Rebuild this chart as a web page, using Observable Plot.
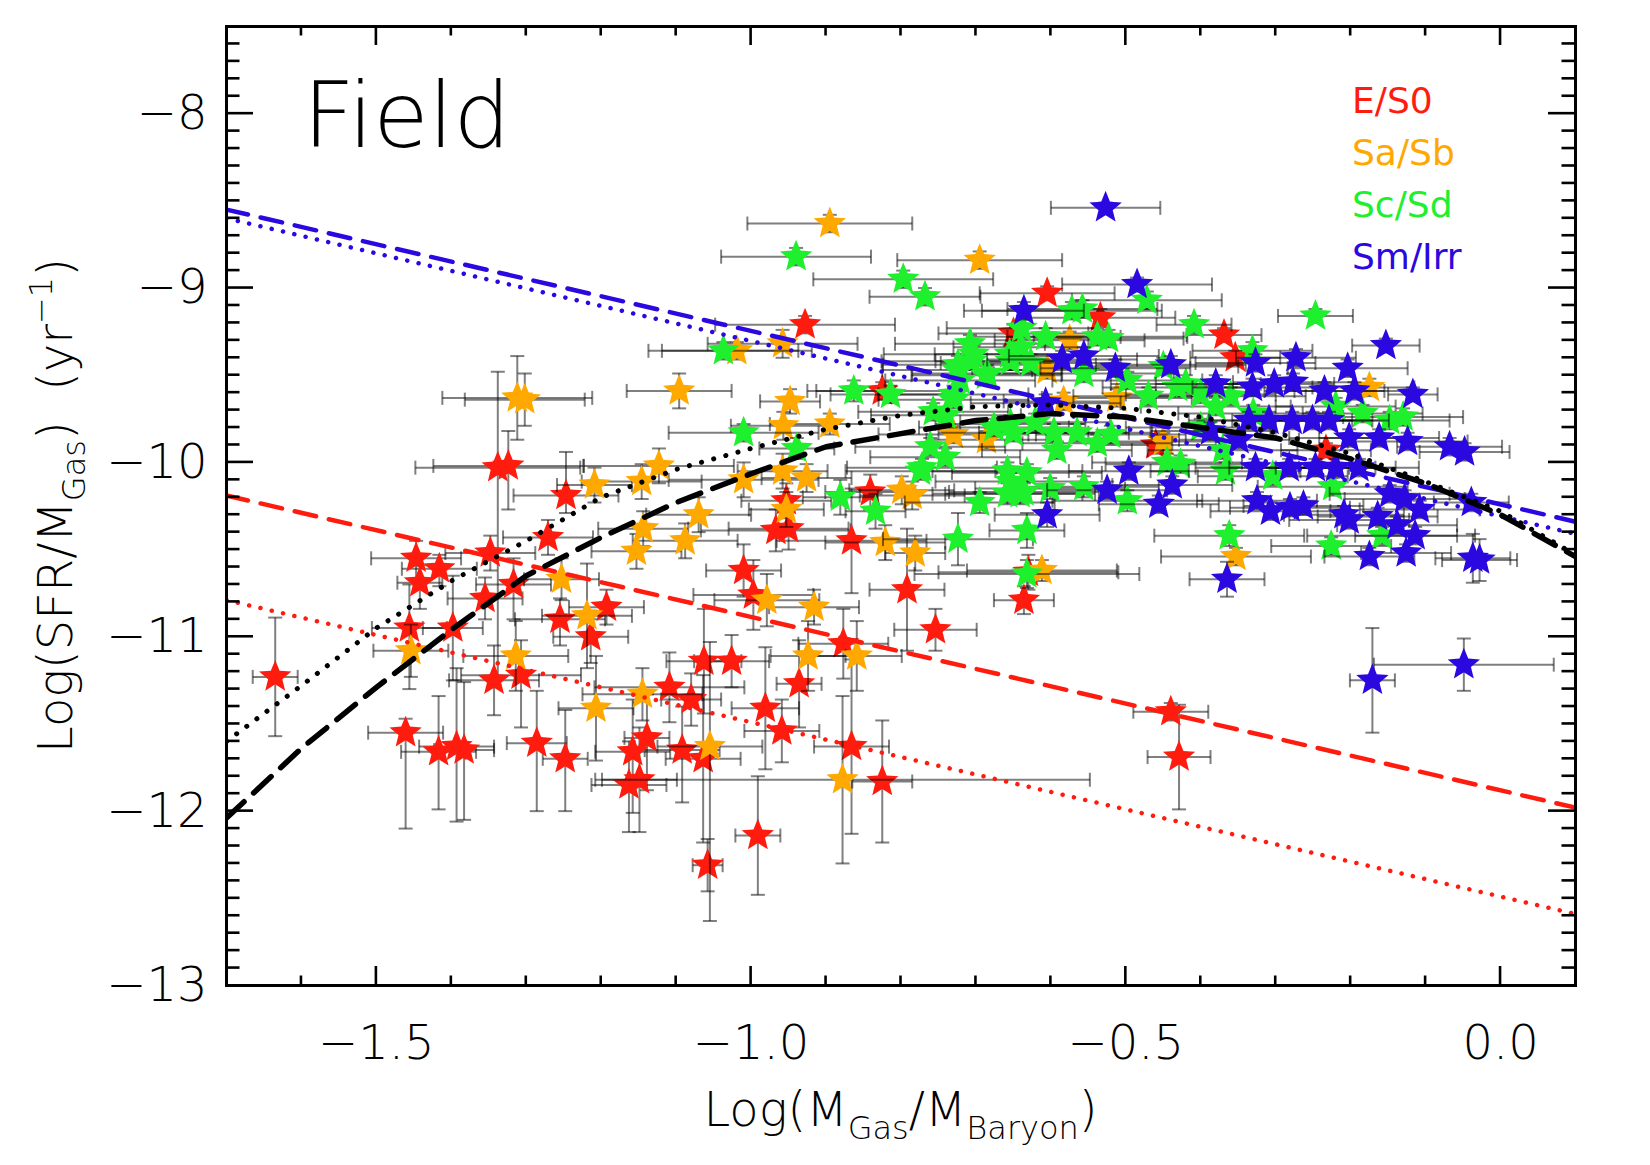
<!DOCTYPE html>
<html>
<head>
<meta charset="utf-8">
<script src="https://cdn.jsdelivr.net/npm/d3@7"></script>
<script src="https://cdn.jsdelivr.net/npm/@observablehq/plot@0.6"></script>
<style>
  html, body { margin: 0; padding: 0; background: #fff; }
  #chart svg { display: block; }
</style>
</head>
<body>
<div id="chart"></div>
<script>
// Morphological classes and their colours
const types = ["E/S0", "Sa/Sb", "Sc/Sd", "Sm/Irr"];
const typeColors = ["#ff1c0e", "#ffa800", "#1ef02e", "#2c08e0"];

// Galaxies: [log Mgas/Mbaryon, log SFR/Mgas, x error, y error up, y error down]
const eS0 = [
  [-1.635,-11.23,0.03,0.34,0.34],[-1.447,-10.55,0.06,0.10,0.12],[-1.416,-10.61,0.05,0.08,0.10],
  [-1.442,-10.69,0.03,0.10,0.15],[-1.355,-10.78,0.05,0.12,0.12],[-1.317,-10.70,0.05,0.15,0.20],
  [-1.348,-10.52,0.06,0.10,0.10],[-1.338,-10.03,0.11,0.55,1.20],[-1.324,-10.02,0.10,0.20,0.25],
  [-1.247,-10.19,0.07,0.25,0.10],[-1.271,-10.43,0.06,0.10,0.10],[-1.255,-10.90,0.06,0.12,0.15],
  [-1.193,-10.83,0.05,0.10,0.10],[-1.214,-11.00,0.05,0.15,0.15],[-1.456,-10.95,0.05,0.25,0.35],
  [-1.398,-10.95,0.04,0.30,0.30],[-1.343,-11.25,0.06,0.20,0.20],[-1.307,-11.22,0.08,0.20,0.30],
  [-1.109,-11.29,0.10,0.20,0.20],[-1.080,-11.36,0.04,0.15,0.15],[-1.063,-11.14,0.05,0.30,0.30],
  [-1.026,-11.14,0.05,0.15,0.15],[-0.981,-11.41,0.045,0.35,0.35],[-0.959,-11.54,0.05,0.18,0.18],
  [-0.936,-11.27,0.03,0.25,0.25],[-0.877,-11.04,0.06,0.20,0.20],[-0.866,-11.63,0.05,0.50,0.50],
  [-0.825,-11.83,0.04,0.35,0.35],[-1.461,-11.55,0.05,0.08,0.55],[-1.417,-11.66,0.05,0.32,0.33],
  [-1.393,-11.63,0.05,0.45,0.43],[-1.383,-11.65,0.04,0.39,0.40],[-1.286,-11.61,0.04,0.30,0.39],
  [-1.248,-11.70,0.03,0.28,0.30],[-1.158,-11.66,0.05,0.30,0.35],[-1.139,-11.58,0.03,0.25,0.30],
  [-1.163,-11.85,0.05,0.25,0.27],[-1.149,-11.82,0.05,0.30,0.30],[-1.092,-11.65,0.05,0.25,0.30],
  [-1.064,-11.70,0.05,0.48,0.48],[-1.058,-12.31,0.02,0.15,0.15],[-0.991,-12.14,0.03,0.34,0.34],
  [-0.928,-9.21,0.12,0.05,0.05],[-0.605,-9.03,0.09,0.04,0.04],[-0.650,-9.26,0.10,0.05,0.05],
  [-0.534,-9.17,0.10,0.05,0.05],[-0.369,-9.27,0.05,0.04,0.04],[-0.354,-9.40,0.06,0.04,0.04],
  [-0.825,-9.59,0.10,0.05,0.05],[-0.841,-10.17,0.06,0.10,0.10],[-0.953,-10.22,0.06,0.10,0.10],
  [-0.967,-10.39,0.10,0.12,0.12],[-0.950,-10.38,0.08,0.12,0.12],[-0.866,-10.45,0.10,0.30,0.30],
  [-0.630,-10.63,0.12,0.10,0.10],[-0.636,-10.79,0.04,0.08,0.08],[-1.010,-10.62,0.05,0.15,0.15],
  [-0.997,-10.76,0.08,0.20,0.20],[-0.792,-10.73,0.05,0.35,0.35],[-0.754,-10.96,0.055,0.12,0.12],
  [-0.440,-11.43,0.05,0.05,0.05],[-0.429,-11.69,0.042,0.30,0.30],[-0.460,-9.90,0.08,0.05,0.05],
  [-0.233,-9.93,0.06,0.04,0.04]
];

const saSb = [
  [-0.895,-8.63,0.11,0.05,0.05],[-0.695,-8.84,0.11,0.05,0.05],[-1.312,-9.63,0.10,0.24,0.24],
  [-1.302,-9.64,0.08,0.15,0.15],[-1.096,-9.59,0.07,0.10,0.10],[-1.019,-9.36,0.10,0.05,0.05],
  [-0.958,-9.32,0.10,0.08,0.08],[-0.948,-9.65,0.04,0.07,0.07],[-0.575,-9.30,0.10,0.05,0.05],
  [-0.583,-9.65,0.08,0.05,0.05],[-1.209,-10.13,0.05,0.10,0.10],[-1.146,-10.11,0.08,0.10,0.10],
  [-1.123,-10.02,0.10,0.10,0.10],[-1.144,-10.38,0.06,0.10,0.10],[-1.153,-10.51,0.06,0.10,0.10],
  [-1.088,-10.45,0.07,0.10,0.10],[-1.070,-10.30,0.07,0.10,0.10],[-1.253,-10.67,0.05,0.12,0.12],
  [-1.219,-10.88,0.06,0.30,0.30],[-1.454,-11.08,0.05,0.15,0.15],[-1.314,-11.11,0.07,0.20,0.20],
  [-1.207,-11.41,0.05,0.30,0.30],[-1.145,-11.33,0.08,0.15,0.15],[-0.924,-11.11,0.05,0.20,0.20],
  [-0.859,-11.11,0.06,0.20,0.20],[-0.878,-11.82,0.33,0.48,0.48],[-1.055,-11.63,0.07,0.60,1.00],
  [-0.958,-10.05,0.06,0.10,0.10],[-0.926,-10.09,0.06,0.08,0.08],[-1.010,-10.10,0.10,0.10,0.10],
  [-0.895,-9.78,0.08,0.06,0.06],[-0.957,-9.79,0.07,0.08,0.08],[-0.799,-10.16,0.07,0.08,0.08],
  [-0.785,-10.19,0.07,0.08,0.08],[-0.953,-10.27,0.05,0.10,0.10],[-0.821,-10.46,0.08,0.10,0.10],
  [-0.781,-10.52,0.04,0.10,0.10],[-0.979,-10.79,0.07,0.15,0.15],[-0.916,-10.83,0.06,0.10,0.10],
  [-0.730,-9.84,0.10,0.05,0.05],[-0.686,-9.87,0.08,0.05,0.05],[-0.612,-10.62,0.10,0.06,0.06],
  [-0.450,-9.88,0.08,0.05,0.05],[-0.353,-10.54,0.10,0.05,0.05],[-0.175,-9.57,0.06,0.05,0.05],
  [-0.605,-9.47,0.10,0.05,0.05],[-0.512,-9.63,0.10,0.05,0.05]
];

const scSd = [
  [-0.940,-8.82,0.10,0.05,0.05],[-0.797,-8.95,0.12,0.05,0.05],[-0.768,-9.05,0.074,0.05,0.05],
  [-0.572,-9.13,0.12,0.05,0.05],[-0.558,-9.12,0.10,0.05,0.05],[-0.708,-9.32,0.10,0.05,0.05],
  [-0.640,-9.34,0.09,0.05,0.05],[-0.655,-9.38,0.10,0.05,0.05],[-1.037,-9.36,0.10,0.05,0.05],
  [-0.706,-9.42,0.12,0.05,0.05],[-0.724,-9.44,0.10,0.05,0.05],[-0.686,-9.50,0.10,0.05,0.05],
  [-0.863,-9.59,0.05,0.06,0.06],[-0.814,-9.61,0.08,0.05,0.05],[-1.010,-9.83,0.10,0.05,0.05],
  [-0.939,-9.92,0.05,0.06,0.06],[-0.757,-9.71,0.10,0.05,0.05],[-0.740,-9.73,0.10,0.05,0.05],
  [-0.772,-10.03,0.10,0.05,0.05],[-0.881,-10.20,0.05,0.10,0.10],[-0.834,-10.28,0.04,0.10,0.10],
  [-0.695,-10.23,0.10,0.06,0.06],[-0.632,-10.39,0.05,0.10,0.10],[-0.724,-10.44,0.10,0.15,0.15],
  [-0.632,-10.64,0.15,0.08,0.08],[-0.247,-9.16,0.05,0.04,0.04],[-0.472,-9.07,0.10,0.05,0.05],
  [-0.409,-9.21,0.05,0.05,0.05],[-0.703,-9.38,0.12,0.05,0.05],[-0.654,-9.42,0.10,0.05,0.05],
  [-0.627,-9.43,0.12,0.05,0.05],[-0.725,-9.47,0.10,0.05,0.05],[-0.685,-9.49,0.10,0.05,0.05],
  [-0.556,-9.49,0.12,0.05,0.05],[-0.639,-9.23,0.10,0.05,0.05],[-0.607,-9.28,0.10,0.05,0.05],
  [-0.538,-9.28,0.12,0.05,0.05],[-0.523,-9.29,0.10,0.05,0.05],[-0.498,-9.53,0.10,0.05,0.05],
  [-0.400,-9.61,0.10,0.05,0.05],[-0.431,-9.57,0.10,0.05,0.05],[-0.730,-9.61,0.10,0.05,0.05],
  [-0.721,-9.53,0.10,0.05,0.05],[-0.761,-9.91,0.10,0.05,0.05],[-0.741,-9.97,0.10,0.05,0.05],
  [-0.774,-10.05,0.10,0.05,0.05],[-0.676,-9.80,0.10,0.05,0.05],[-0.658,-10.05,0.10,0.05,0.05],
  [-0.632,-10.06,0.10,0.05,0.05],[-0.658,-10.18,0.10,0.06,0.06],[-0.641,-10.18,0.10,0.06,0.06],
  [-0.601,-10.15,0.10,0.06,0.06],[-0.556,-10.14,0.10,0.06,0.06],[-0.592,-9.93,0.10,0.05,0.05],
  [-0.565,-9.83,0.10,0.05,0.05],[-0.538,-9.89,0.10,0.05,0.05],[-0.520,-9.84,0.10,0.05,0.05],
  [-0.650,-9.83,0.10,0.05,0.05],[-0.621,-9.77,0.10,0.05,0.05],[-0.596,-9.83,0.10,0.05,0.05],
  [-0.498,-10.22,0.10,0.06,0.06],[-0.427,-10.01,0.10,0.05,0.05],[-0.445,-10.00,0.10,0.05,0.05],
  [-0.331,-9.36,0.08,0.05,0.05],[-0.148,-9.76,0.08,0.05,0.05],[-0.130,-9.74,0.08,0.05,0.05],
  [-0.371,-9.93,0.10,0.05,0.05],[-0.367,-10.05,0.10,0.05,0.05],[-0.304,-10.08,0.10,0.05,0.05],
  [-0.224,-10.14,0.10,0.05,0.05],[-0.158,-10.42,0.10,0.05,0.05],[-0.226,-10.48,0.08,0.05,0.05],
  [-0.362,-10.42,0.10,0.06,0.06],[-0.184,-9.72,0.08,0.05,0.05],[-0.220,-9.68,0.08,0.05,0.05],
  [-0.730,-9.64,0.10,0.05,0.05],[-0.654,-9.78,0.10,0.05,0.05],[-0.636,-10.17,0.10,0.05,0.05],
  [-0.654,-10.11,0.10,0.05,0.05],[-0.450,-9.45,0.10,0.05,0.05],[-0.420,-9.55,0.10,0.05,0.05],
  [-0.380,-9.68,0.10,0.05,0.05],[-0.330,-9.72,0.10,0.05,0.05],[-0.470,-9.62,0.10,0.05,0.05],
  [-0.400,-9.80,0.10,0.05,0.05],[-0.360,-9.62,0.10,0.05,0.05]
];

const smIrr = [
  [-0.527,-8.54,0.073,0.03,0.03],[-0.485,-8.98,0.10,0.04,0.04],[-0.636,-9.13,0.08,0.05,0.05],
  [-0.153,-9.33,0.045,0.04,0.04],[-0.117,-9.61,0.033,0.04,0.04],[-0.585,-9.41,0.10,0.05,0.05],
  [-0.556,-9.39,0.10,0.05,0.05],[-0.514,-9.46,0.10,0.05,0.05],[-0.440,-9.44,0.10,0.05,0.05],
  [-0.380,-9.55,0.08,0.05,0.05],[-0.607,-9.66,0.10,0.05,0.05],[-0.605,-10.30,0.07,0.07,0.07],
  [-0.525,-10.16,0.08,0.05,0.05],[-0.496,-10.05,0.08,0.05,0.05],[-0.456,-10.24,0.08,0.05,0.05],
  [-0.438,-10.13,0.08,0.05,0.05],[-0.387,-9.82,0.08,0.05,0.05],[-0.327,-9.43,0.08,0.05,0.05],
  [-0.273,-9.40,0.08,0.05,0.05],[-0.204,-9.46,0.08,0.05,0.05],[-0.331,-9.57,0.08,0.05,0.05],
  [-0.302,-9.55,0.08,0.05,0.05],[-0.277,-9.54,0.08,0.05,0.05],[-0.235,-9.59,0.08,0.05,0.05],
  [-0.195,-9.59,0.08,0.05,0.05],[-0.068,-9.91,0.07,0.05,0.05],[-0.048,-9.94,0.06,0.05,0.05],
  [-0.039,-10.23,0.05,0.05,0.05],[-0.037,-10.55,0.05,0.14,0.14],[-0.028,-10.56,0.05,0.12,0.12],
  [-0.148,-10.18,0.08,0.05,0.05],[-0.128,-10.21,0.08,0.05,0.05],[-0.108,-10.27,0.08,0.05,0.05],
  [-0.164,-10.31,0.08,0.05,0.05],[-0.209,-10.30,0.08,0.05,0.05],[-0.202,-10.33,0.08,0.05,0.05],
  [-0.138,-10.36,0.08,0.05,0.05],[-0.114,-10.42,0.08,0.05,0.05],[-0.175,-10.54,0.06,0.05,0.05],
  [-0.126,-10.52,0.06,0.05,0.05],[-0.325,-10.22,0.08,0.05,0.05],[-0.307,-10.28,0.08,0.05,0.05],
  [-0.281,-10.26,0.08,0.05,0.05],[-0.263,-10.25,0.08,0.05,0.05],[-0.365,-10.67,0.05,0.10,0.10],
  [-0.336,-9.76,0.08,0.05,0.05],[-0.309,-9.76,0.08,0.05,0.05],[-0.278,-9.76,0.08,0.05,0.05],
  [-0.251,-9.76,0.08,0.05,0.05],[-0.229,-9.76,0.08,0.05,0.05],[-0.202,-9.86,0.08,0.05,0.05],
  [-0.162,-9.86,0.08,0.05,0.05],[-0.124,-9.88,0.08,0.05,0.05],[-0.327,-10.03,0.08,0.05,0.05],
  [-0.282,-10.03,0.08,0.05,0.05],[-0.247,-10.03,0.08,0.05,0.05],[-0.220,-10.03,0.08,0.05,0.05],
  [-0.189,-10.03,0.08,0.05,0.05],[-0.349,-9.87,0.08,0.05,0.05],[-0.049,-11.16,0.12,0.15,0.15],
  [-0.171,-11.25,0.03,0.30,0.30]
];

// Model curves (black) and linear relations (blue: Sm/Irr, red: E/S0)
const modelX      = [-1.7,-1.6,-1.5,-1.4,-1.3,-1.2,-1.1,-1.0,-0.9,-0.8,-0.7,-0.6,-0.5,-0.4,-0.3,-0.2,-0.1,0.0,0.1];
const modelDashY  = [-12.04,-11.64,-11.29,-10.96,-10.65,-10.43,-10.23,-10.065,-9.91,-9.835,-9.76,-9.72,-9.74,-9.80,-9.86,-9.98,-10.12,-10.30,-10.54];
const modelDotY   = [-11.60,-11.28,-10.95,-10.68,-10.45,-10.20,-10.04,-9.92,-9.81,-9.73,-9.68,-9.67,-9.69,-9.74,-9.83,-9.95,-10.11,-10.28,-10.53];
const lineX       = [-1.7, 0.1];
const blueDashY   = [-8.55, -10.34];
const blueDotY    = [-8.60, -10.41];
const redDashY    = [-10.19, -11.98];
const redDotY     = [-10.79, -12.59];

// Axis ticks
const xMajor = [-1.5, -1.0, -0.5, 0.0];
const yMajor = [-8, -9, -10, -11, -12, -13];
const xMinor = d3.range(-16, 1).map(i => i / 10);
const yMinor = d3.range(-129, -75).map(i => i / 10);

const FONT = "'DejaVu Sans', 'Liberation Sans', sans-serif";

const pts = (xs, ys) => xs.map((x, i) => ({x, y: ys[i]}));

// Five-pointed star with a fairly wide body; outer radius = sqrt(size / PI)
const star5 = {draw(ctx, size) {
  const R = Math.sqrt(size / Math.PI), r0 = R * 0.44;
  for (let i = 0; i < 10; ++i) {
    const a = -Math.PI / 2 + i * Math.PI / 5, rr = i % 2 ? r0 : R;
    const px = rr * Math.cos(a), py = rr * Math.sin(a);
    if (i === 0) ctx.moveTo(px, py); else ctx.lineTo(px, py);
  }
  ctx.closePath();
}};

// Short cap strokes for the error bars
const capV = {draw(ctx, size) { const h = Math.sqrt(size / Math.PI); ctx.moveTo(0, -h); ctx.lineTo(0, h); }};
const capH = {draw(ctx, size) { const h = Math.sqrt(size / Math.PI); ctx.moveTo(-h, 0); ctx.lineTo(h, 0); }};

const barStyle = {stroke: "#000", strokeOpacity: 0.5, strokeWidth: 2};

function galaxyMarks(data, color) {
  const up = d => d[3], dn = d => (d[4] ?? d[3]);
  return [
    Plot.link(data, {x1: d => d[0] - d[2], x2: d => d[0] + d[2], y1: d => d[1], y2: d => d[1], ...barStyle}),
    Plot.link(data, {x1: d => d[0], x2: d => d[0], y1: d => d[1] - dn(d), y2: d => d[1] + up(d), ...barStyle}),
    Plot.dot(data, {x: d => d[0] - d[2], y: d => d[1], symbol: capV, r: 7, fill: "none", ...barStyle}),
    Plot.dot(data, {x: d => d[0] + d[2], y: d => d[1], symbol: capV, r: 7, fill: "none", ...barStyle}),
    Plot.dot(data, {x: d => d[0], y: d => d[1] + up(d), symbol: capH, r: 7, fill: "none", ...barStyle}),
    Plot.dot(data, {x: d => d[0], y: d => d[1] - dn(d), symbol: capH, r: 7, fill: "none", ...barStyle}),
    Plot.dot(data, {x: d => d[0], y: d => d[1], symbol: star5, r: 17, fill: color, stroke: "none"})
  ];
}

// Inward major/minor ticks on all four sides of the frame
function frameTicks(index, scales, values, dims) {
  const {x, y} = scales;
  const L = dims.marginLeft, R = dims.width - dims.marginRight;
  const T = dims.marginTop, B = dims.height - dims.marginBottom;
  const g = d3.create("svg:g").attr("stroke", "#000").attr("stroke-width", 2.6).attr("fill", "none");
  const isMajor = (list, v) => list.some(m => Math.abs(m - v) < 1e-6);
  for (const v of xMinor) {
    const px = x(v), len = isMajor(xMajor, v) ? 19 : 9.5;
    g.append("line").attr("x1", px).attr("x2", px).attr("y1", B).attr("y2", B - len);
    g.append("line").attr("x1", px).attr("x2", px).attr("y1", T).attr("y2", T + len);
  }
  for (const v of yMinor) {
    const py = y(v), len = isMajor(yMajor, v) ? 27 : 13.5;
    g.append("line").attr("x1", L).attr("x2", L + len).attr("y1", py).attr("y2", py);
    g.append("line").attr("x1", R).attr("x2", R - len).attr("y1", py).attr("y2", py);
  }
  return g.node();
}

// Axis titles, panel name and the colour key
function annotations(index, scales, values, dims) {
  const L = dims.marginLeft, R = dims.width - dims.marginRight;
  const T = dims.marginTop, B = dims.height - dims.marginBottom;
  const g = d3.create("svg:g").attr("font-family", FONT).attr("fill", "#000");

  const xt = g.append("text").attr("x", (L + R) / 2).attr("y", B + 141)
    .attr("text-anchor", "middle").attr("font-size", 48).attr("font-weight", 200);
  xt.append("tspan").text("Log(M");
  xt.append("tspan").attr("font-size", 32).attr("dy", 13).text("Gas");
  xt.append("tspan").attr("dy", -13).text("/M");
  xt.append("tspan").attr("font-size", 32).attr("dy", 13).text("Baryon");
  xt.append("tspan").attr("dy", -13).text(")");

  const yt = g.append("text").attr("transform", `translate(72,${(T + B) / 2}) rotate(-90)`)
    .attr("text-anchor", "middle").attr("font-size", 48).attr("font-weight", 200);
  yt.append("tspan").text("Log(SFR/M");
  yt.append("tspan").attr("font-size", 32).attr("dy", 13).text("Gas");
  yt.append("tspan").attr("dy", -13).text(")\u00a0\u00a0(yr");
  yt.append("tspan").attr("font-size", 32).attr("dy", -20).text("\u22121");
  yt.append("tspan").attr("dy", 20).text(")");

  g.append("text").attr("x", L + 77).attr("y", T + 121).attr("text-anchor", "start")
    .attr("font-size", 90).attr("font-weight", 200).text("Field");

  types.forEach((t, i) => {
    g.append("text").attr("x", L + 1126).attr("y", T + 87 + i * 52).attr("text-anchor", "start")
      .attr("font-size", 36).attr("font-weight", 500).attr("fill", typeColors[i]).text(t);
  });
  return g.node();
}

const lineStyle = (stroke, dashed) => dashed
  ? {stroke, strokeWidth: 4.5, strokeDasharray: "22 13"}
  : {stroke, strokeWidth: 4.5, strokeDasharray: "0.1 11.5", strokeLinecap: "round"};

const chart = Plot.plot({
  width: 1650,
  height: 1165,
  marginLeft: 226,
  marginRight: 75,
  marginTop: 26,
  marginBottom: 180,
  style: {fontFamily: FONT, fontSize: "48px", fontWeight: 200, background: "#fff", overflow: "visible"},
  x: {domain: [-1.7, 0.1]},
  y: {domain: [-13.0, -7.5]},
  marks: [
    ...galaxyMarks(eS0, typeColors[0]),
    ...galaxyMarks(saSb, typeColors[1]),
    ...galaxyMarks(scSd, typeColors[2]),
    ...galaxyMarks(smIrr, typeColors[3]),
    Plot.line(pts(lineX, blueDashY), {x: "x", y: "y", ...lineStyle(typeColors[3], true), clip: true}),
    Plot.line(pts(lineX, blueDotY), {x: "x", y: "y", ...lineStyle(typeColors[3], false), clip: true}),
    Plot.line(pts(lineX, redDashY), {x: "x", y: "y", ...lineStyle(typeColors[0], true), clip: true}),
    Plot.line(pts(lineX, redDotY), {x: "x", y: "y", ...lineStyle(typeColors[0], false), clip: true}),
    Plot.line(pts(modelX, modelDashY), {x: "x", y: "y", stroke: "#000", strokeWidth: 5.5, strokeDasharray: "24 13", clip: true}),
    Plot.line(pts(modelX, modelDotY), {x: "x", y: "y", stroke: "#000", strokeWidth: 5, strokeDasharray: "0.1 12.5", strokeLinecap: "round", clip: true}),
    Plot.axisX({ticks: xMajor, tickSize: 0, tickPadding: 39, tickFormat: d3.format(".1f"), label: null, fontSize: 48}),
    Plot.axisY({ticks: yMajor, tickSize: 0, tickPadding: 19, tickFormat: d3.format("d"), label: null, fontSize: 48}),
    frameTicks,
    Plot.frame({stroke: "#000", strokeWidth: 3}),
    annotations
  ]
});

document.getElementById("chart").appendChild(chart);
</script>
</body>
</html>
